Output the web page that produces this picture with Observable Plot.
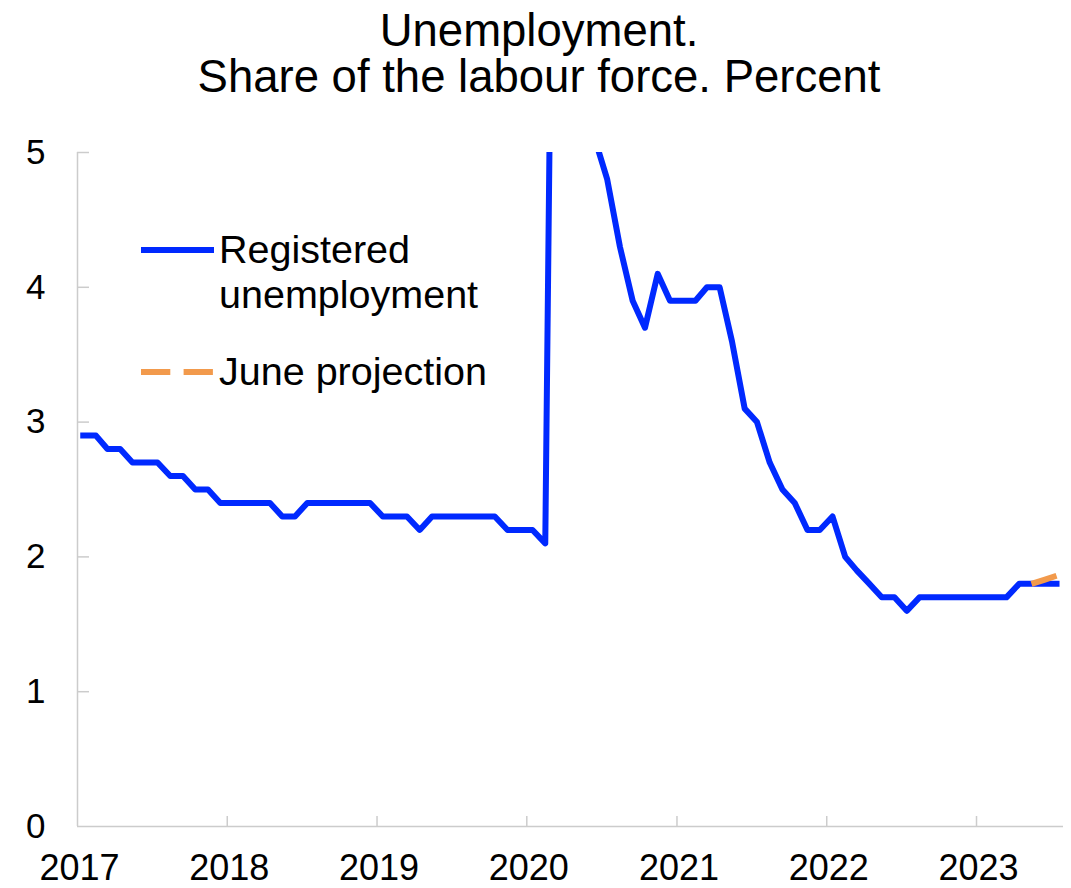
<!DOCTYPE html>
<html>
<head>
<meta charset="utf-8">
<script src="https://cdn.jsdelivr.net/npm/d3@7"></script>
<script src="https://cdn.jsdelivr.net/npm/@observablehq/plot@0.6"></script>
<style>
  body { margin: 0; background: #fff; }
  #wrap { position: relative; width: 1071px; height: 888px; font-family: "Liberation Sans", Arial, sans-serif; color: #000; }
  #title { height: 110px; box-sizing: border-box; padding-top: 8px; padding-left: 7px; text-align: center; font-size: 45.5px; line-height: 46px; }
  #legend { position: absolute; left: 0; top: 0; pointer-events: none; }
  #chart svg { display: block; }
</style>
</head>
<body>
<div id="wrap">
  <div id="title">Unemployment.<br>Share of the labour force. Percent</div>
  <div id="chart"></div>
  <svg id="legend" width="1071" height="888"></svg>
</div>
<script>
// ---- data (monthly, registered unemployment, % of labour force) ----
const startMonth = "2017-01";
const registered = [
  2.9, 2.9, 2.8, 2.8, 2.7, 2.7, 2.7, 2.6, 2.6, 2.5, 2.5, 2.4,   // 2017
  2.4, 2.4, 2.4, 2.4, 2.3, 2.3, 2.4, 2.4, 2.4, 2.4, 2.4, 2.4,   // 2018
  2.3, 2.3, 2.3, 2.2, 2.3, 2.3, 2.3, 2.3, 2.3, 2.3, 2.2, 2.2,   // 2019
  2.2, 2.1, 10.4, 10.7, 9.0, 5.1, 4.8, 4.3, 3.9, 3.7, 4.1, 3.9, // 2020
  3.9, 3.9, 4.0, 4.0, 3.6, 3.1, 3.0, 2.7, 2.5, 2.4, 2.2, 2.2,   // 2021
  2.3, 2.0, 1.9, 1.8, 1.7, 1.7, 1.6, 1.7, 1.7, 1.7, 1.7, 1.7,   // 2022
  1.7, 1.7, 1.7, 1.8, 1.8, 1.8, 1.8                              // 2023
];
const projStartMonth = "2023-05";
const projection = [1.80, 1.83, 1.86];   // June projection
const yTicks = [0, 1, 2, 3, 4, 5];
const xTickYears = [2017, 2018, 2019, 2020, 2021, 2022, 2023];
const xDomain = ["2017-01-01", "2023-08-01"];
const seriesNames = ["Registered", "unemployment", "June projection"];
const colors = { registered: "#0029ff", projection: "#f29a4c", axis: "#cccccc" };

// ---- build tables ----
function monthDate(startStr, i) {
  const [y, m] = startStr.split("-").map(Number);
  return new Date(Date.UTC(y, m - 1 + i, 15));
}
const regData = registered.map((v, i) => ({ date: monthDate(startMonth, i), value: v }));
const projData = projection.map((v, i) => ({ date: monthDate(projStartMonth, i), value: v }));
const yearDates = xTickYears.map(y => new Date(Date.UTC(y, 0, 1)));
const x0 = new Date(xDomain[0]), x1 = new Date(xDomain[1]);

const W = 1071, H = 778;
const mL = 77, mR = 8, mT = 42, mB = 62;
const frameW = W - mL - mR, frameH = H - mT - mB;
const font = "Liberation Sans, Arial, sans-serif";

const chart = Plot.plot({
  width: W,
  height: H,
  marginLeft: mL,
  marginRight: mR,
  marginTop: mT,
  marginBottom: mB,
  style: { fontFamily: font, color: "#000", background: "#fff", overflow: "visible" },
  x: { type: "utc", domain: [x0, x1], axis: null },
  y: { domain: [0, 5], axis: null },
  marks: [
    // axis lines
    Plot.ruleX([x0], { stroke: colors.axis, strokeWidth: 1.5 }),
    Plot.ruleY([0], { stroke: colors.axis, strokeWidth: 1.5 }),
    // inward ticks
    Plot.ruleY(yTicks.filter(d => d > 0), { y: d => d, stroke: colors.axis, strokeWidth: 1.5, insetRight: frameW - 12 }),
    Plot.ruleX(yearDates.slice(1), { x: d => d, stroke: colors.axis, strokeWidth: 1.5, insetTop: frameH - 10 }),
    // tick labels
    Plot.text(yTicks, { y: d => d, text: d => String(d), frameAnchor: "left", dx: -32, textAnchor: "end", fontSize: 35, fill: "#000" }),
    Plot.text(yearDates, { x: d => d, text: d => String(d.getUTCFullYear()), frameAnchor: "bottom", dx: 2, dy: 42, lineAnchor: "middle", fontSize: 36, fill: "#000" }),
    // series
    Plot.lineY(regData, { x: "date", y: "value", stroke: colors.registered, strokeWidth: 6, strokeLinecap: "square", strokeLinejoin: "round", clip: true }),
    Plot.lineY(projData, { x: "date", y: "value", stroke: colors.projection, strokeWidth: 6, strokeDasharray: "29,13", strokeLinecap: "butt", clip: true })
  ]
});
document.getElementById("chart").appendChild(chart);

// ---- legend (inside the plot area, upper left) ----
const lg = d3.select("#legend");
const lgFont = 39.5;
lg.append("line").attr("x1", 141).attr("x2", 214).attr("y1", 250).attr("y2", 250)
  .attr("stroke", colors.registered).attr("stroke-width", 6);
lg.append("line").attr("x1", 141).attr("x2", 213).attr("y1", 372).attr("y2", 372)
  .attr("stroke", colors.projection).attr("stroke-width", 6).attr("stroke-dasharray", "29.3,13.3");
[[seriesNames[0], 263], [seriesNames[1], 308], [seriesNames[2], 385]].forEach(([t, y]) => {
  lg.append("text").attr("x", 219).attr("y", y).attr("font-family", font).attr("font-size", lgFont)
    .attr("fill", "#000").text(t);
});
</script>
</body>
</html>
